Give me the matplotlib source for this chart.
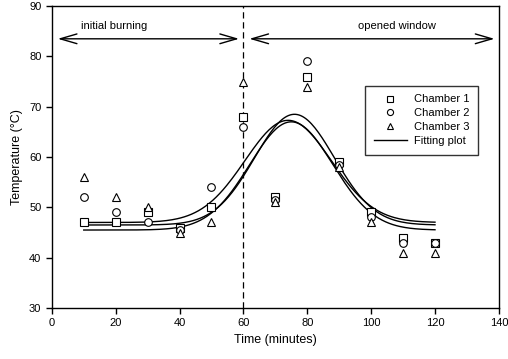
import numpy as np
import matplotlib.pyplot as plt
from matplotlib.lines import Line2D

plt.rcParams['font.family'] = ['Liberation Sans', 'DejaVu Sans']

# measured temperatures (deg C) at each sampling time (minutes)
time = [10, 20, 30, 40, 50, 60, 70, 80, 90, 100, 110, 120]
chamber1 = [47, 47, 49, 46, 50, 68, 52, 76, 59, 49, 44, 43]
chamber2 = [52, 49, 47, 45.5, 54, 66, 51.5, 79, 58.5, 48, 43, 43]
chamber3 = [56, 52, 50, 45, 47, 75, 51, 74, 58, 47, 41, 41]

# gaussian fit parameters: base, amplitude, centre, width
fit_base = [47, 46.5, 45.5]
fit_amp = [20.3, 22.0, 21.5]
fit_centre = [74, 76, 75]
fit_width = [13.5, 12.5, 13.0]

fig = plt.figure(figsize=(5.08, 3.59), dpi=100)
ax = fig.add_axes([0.102, 0.142, 0.880, 0.841])

mk = dict(linestyle='none', mfc='white', mec='black', ms=5.5, mew=0.8, zorder=3)
ax.plot(time, chamber1, marker='s', **mk)
ax.plot(time, chamber2, marker='o', **mk)
ax.plot(time, chamber3, marker='^', **mk)

xs = np.linspace(10, 120, 200)
for b, a, c, w in zip(fit_base, fit_amp, fit_centre, fit_width):
    ax.plot(xs, b + a * np.exp(-(xs - c) ** 2 / (2 * w ** 2)), color='black', lw=1.0, zorder=2)

ax.axvline(60, color='black', ls=(0, (5, 3)), lw=0.9)

arrow = dict(arrowstyle='<->,head_length=1.2,head_width=0.35', color='black', lw=1.0)
ax.annotate('', xy=(1, 83.5), xytext=(59.5, 83.5), arrowprops=arrow)
ax.annotate('', xy=(61, 83.5), xytext=(139.5, 83.5), arrowprops=arrow)
ax.text(19.5, 86, 'initial burning', ha='center', va='center', fontsize=8)
ax.text(108, 86, 'opened window', ha='center', va='center', fontsize=8)

ax.set_xlim(0, 140)
ax.set_ylim(30, 90)
ax.set_xticks(range(0, 141, 20))
ax.set_yticks(range(30, 91, 10))
ax.tick_params(direction='out', length=4, width=1, labelsize=8)
for s in ax.spines.values():
    s.set_linewidth(1.0)
ax.set_xlabel('Time (minutes)', fontsize=9)
ax.set_ylabel('Temperature (°C)', fontsize=9)

handles = [
    Line2D([], [], marker='s', **mk),
    Line2D([], [], marker='o', **mk),
    Line2D([], [], marker='^', **mk),
    Line2D([], [], color='black', lw=1.0),
]
leg = ax.legend(handles, ['Chamber 1', 'Chamber 2', 'Chamber 3', 'Fitting plot'],
                loc='upper left', bbox_to_anchor=(0.70, 0.737), fontsize=8, frameon=True,
                fancybox=False, edgecolor='black', handlelength=3.0, labelspacing=0.35,
                borderpad=0.8, markerscale=0.8, handletextpad=0.6, borderaxespad=0)
leg.get_frame().set_linewidth(1.0)

fig.savefig('out.png', dpi=100)
